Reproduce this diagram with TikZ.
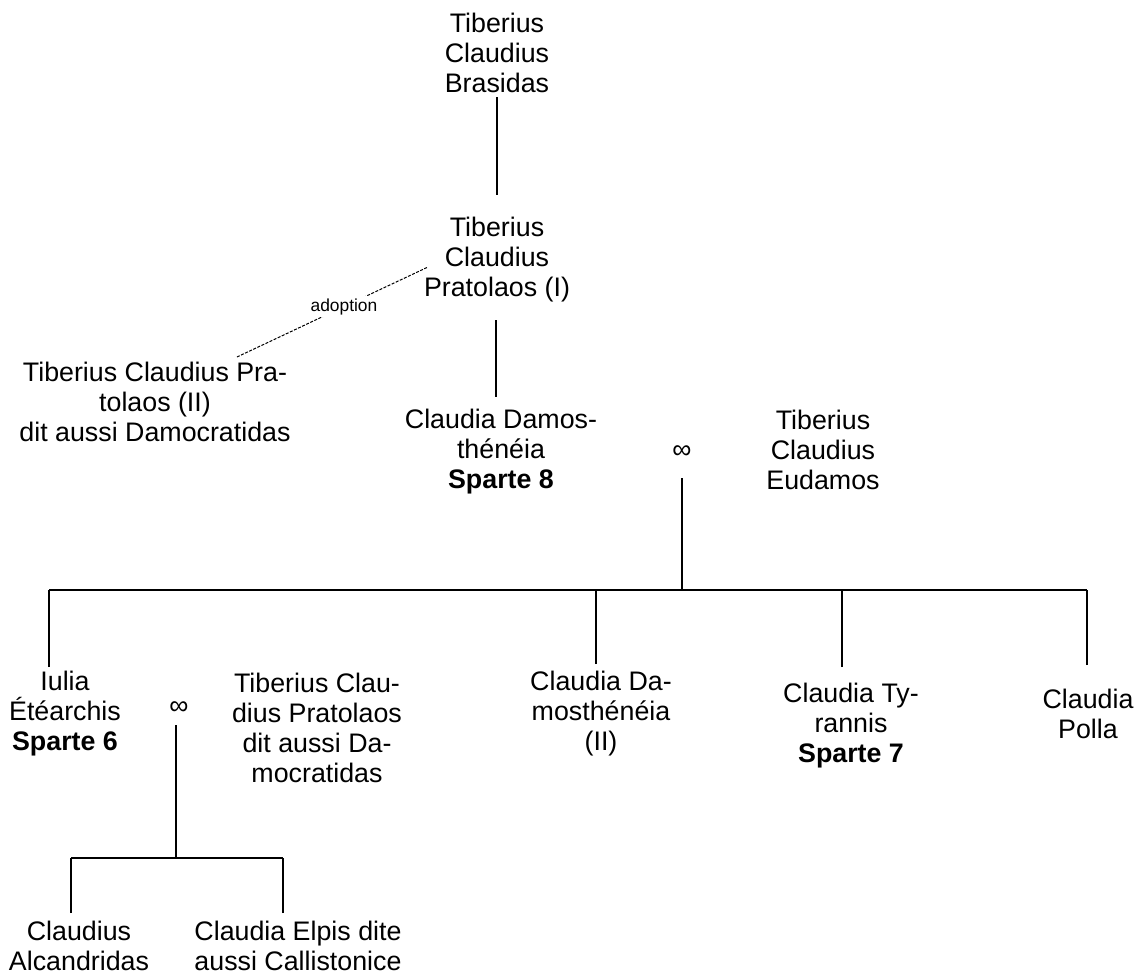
\documentclass[tikz,border=0pt]{standalone}
\usepackage{fontspec}
\setmainfont{Liberation Sans}
\usepackage{tikz}
\usetikzlibrary{positioning, calc}

\tikzset{
    person/.style={align=center, inner sep=0pt,
                   font=\fontsize{13.4pt}{15pt}\selectfont},
    wedding/.style={inner sep=0pt, font=\fontsize{13.4pt}{15pt}\selectfont},
    kinline/.style={line width=1pt},
    adoptline/.style={line width=0.5pt, dash pattern=on 1.5pt off 0.75pt},
    adoptlabel/.style={fill=white, inner xsep=4.5pt, inner ysep=1pt,
                       font=\fontsize{8.7pt}{10pt}\selectfont}
}

\begin{document}
\begin{tikzpicture}[x=0.5pt, y=-0.5pt]
        \useasboundingbox (0,0) rectangle (1136,975);

        % first generations
        \node (brasidas) [person] at (497,53) {Tiberius\\Claudius\\Brasidas};
        \node (pratolaosI) [person] at (497,260) {Tiberius\\Claudius\\Pratolaos (I)};
        \node (pratolaosII) [person] at (155,402) {Tiberius Claudius Pra-\\tolaos (II)\\dit aussi Damocratidas};
        \node (damosthenia) [person] at (501,452) {Claudia Damos-\\thénéia\\\textbf{Sparte 8}};
        \node (wedA) [wedding] at (682,452) {∞};
        \node (eudamos) [person] at (823,450) {Tiberius\\Claudius\\Eudamos};

        % children of Claudia Damosthénéia
        \node (iulia) [person] at (65,714) {Iulia\\Étéarchis\\\textbf{Sparte 6}};
        \node (wedB) [wedding] at (179,708) {∞};
        \node (pratolaosIII) [person] at (317,728) {Tiberius Clau-\\dius Pratolaos\\dit aussi Da-\\mocratidas};
        \node (damostheniaII) [person] at (601,714) {Claudia Da-\\mosthénéia\\(II)};
        \node (tyrannis) [person] at (851,726) {Claudia Ty-\\rannis\\\textbf{Sparte 7}};
        \node (polla) [person] at (1088,714) {Claudia\\Polla};

        % grandchildren
        \node (alcandridas) [person] at (79,946) {Claudius\\Alcandridas};
        \node (elpis) [person] at (298,946) {Claudia Elpis dite\\aussi Callistonice};

        % skeleton of the tree
        \coordinate (brasidas-s) at (497,97);
        \coordinate (pratolaosI-n) at (497,195);
        \coordinate (pratolaosI-s) at (496,320);
        \coordinate (damosthenia-n) at (496,397);
        \coordinate (wedA-s) at (682,478);
        \coordinate (barA-w) at (49,590);
        \coordinate (barA-e) at (1087,590);
        \coordinate (iulia-n) at (49,667);
        \coordinate (damostheniaII-n) at (596,664);
        \coordinate (tyrannis-n) at (842,667);
        \coordinate (polla-n) at (1087,665);
        \coordinate (wedB-s) at (176,725);
        \coordinate (barB-w) at (71,858);
        \coordinate (barB-e) at (283,858);
        \coordinate (alcandridas-n) at (71,913);
        \coordinate (elpis-n) at (283,913);
        \coordinate (adopt-a) at (237,357);
        \coordinate (adopt-b) at (428,267);

        \draw [kinline] (brasidas-s) -- (pratolaosI-n);
        \draw [kinline] (pratolaosI-s) -- (damosthenia-n);
        \draw [kinline] (wedA-s) -- (wedA-s |- barA-w);
        \draw [kinline] (barA-w) -- (barA-e);
        \draw [kinline] (iulia-n) -- (iulia-n |- barA-w);
        \draw [kinline] (damostheniaII-n) -- (damostheniaII-n |- barA-w);
        \draw [kinline] (tyrannis-n) -- (tyrannis-n |- barA-w);
        \draw [kinline] (polla-n) -- (barA-e);
        \draw [kinline] (wedB-s) -- (wedB-s |- barB-w);
        \draw [kinline] (barB-w) -- (barB-e);
        \draw [kinline] (alcandridas-n) -- (barB-w);
        \draw [kinline] (elpis-n) -- (barB-e);

        % adoption
        \draw [adoptline] (adopt-a) -- node (adoption) [adoptlabel, pos=0.56] {adoption} (adopt-b);
    \end{tikzpicture}
\end{document}
